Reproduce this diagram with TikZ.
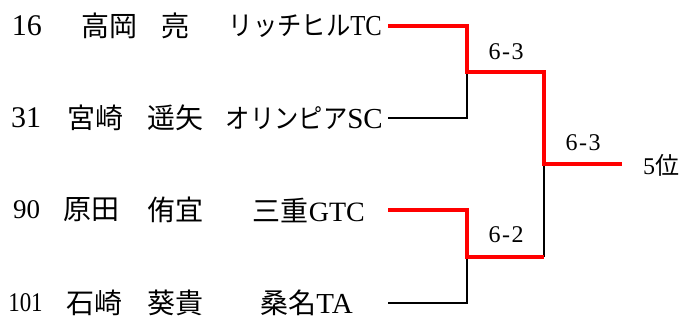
\documentclass[tikz,border=0pt]{standalone}
\usepackage{fontspec}
\setmainfont{Liberation Serif}
\newfontfamily\cjk{Noto Sans CJK JP}
\newfontfamily\cjkn[FakeStretch=0.9]{Noto Sans CJK JP}
\newfontfamily\latn[FakeStretch=0.85]{Liberation Serif}
\newcommand\fsz[1]{\fontsize{#1}{#1}\selectfont}
\begin{document}
\begin{tikzpicture}[x=1pt,y=1pt,
  nm/.style={inner sep=0pt,font=\fsz{28}},
  sc/.style={inner sep=0pt,font=\fsz{24}},
  win/.style={draw=red,line width=4pt},
  lose/.style={draw=black,line width=2.8pt}]
\useasboundingbox (0,0) rectangle (687,331);
% row 1
\node[nm,font=\fsz{30}] (n1) at (27,305) {16};
\node[nm] (s1) at (109.5,305) {\cjk 高岡};
\node[nm] (g1) at (175,305) {\cjk 亮};
\node[nm,anchor=east] (t1) at (382,305) {{\cjkn\fsz{27}リッチヒル}{\latn\fsz{29}TC}};
% row 2
\node[nm,font=\fsz{30}] (n2) at (26,213) {31};
\node[nm] (s2) at (95,213) {\cjk 宮崎};
\node[nm] (g2) at (175,213) {\cjk 遥矢};
\node[nm,anchor=east] (t2) at (383,213) {{\cjkn\fsz{27}オリンピア}{\fsz{29}SC}};
% row 3
\node[nm,font=\fsz{27}] (n3) at (26.5,121) {90};
\node[nm] (s3) at (91.5,121) {\cjk 原田};
\node[nm] (g3) at (175.5,121) {\cjk 侑宜};
\node[nm,anchor=east] (t3) at (365,121) {{\cjk 三重}{\fsz{28}GTC}};
% row 4
\node[nm,font=\fsz{27}] (n4) at (25.5,28) {{\latn 101}};
\node[nm] (s4) at (94,28) {\cjk 石崎};
\node[nm] (g4) at (175,28) {\cjk 葵貴};
\node[nm,anchor=east] (t4) at (353,28) {{\cjk 桑名}{\fsz{29}TA}};
% bracket coordinates
\coordinate (a1) at (388,305);
\coordinate (m1) at (467,305);
\coordinate (j1) at (467,259);
\coordinate (a2) at (388,213);
\coordinate (m2) at (467,213);
\coordinate (a3) at (388,121);
\coordinate (m3) at (467,121);
\coordinate (j2) at (467,74);
\coordinate (a4) at (388,28);
\coordinate (m4) at (467,28);
\coordinate (k1) at (544,259);
\coordinate (k2) at (544,74);
\coordinate (f) at (544,167);
\coordinate (e) at (622,167);
% losers
\draw[lose] (a2) -- (m2) -- (j1);
\draw[lose] (a4) -- (m4) -- (j2);
\draw[lose] (k2) -- (f);
% winners
\draw[win] (a1) -- (m1) -- (j1) -- (k1) -- (f) -- (e);
\draw[win] (a3) -- (m3) -- (j2) -- (k2);
% scores
\node[sc] (r1) at (506,279) {6\kern1.5pt-\kern1.5pt3};
\node[sc] (r2) at (506,96) {6\kern1.5pt-\kern1.5pt2};
\node[sc] (r3) at (583,188) {6\kern1.5pt-\kern1.5pt3};
\node[sc] (res) at (661,166) {5{\cjk 位}};
\end{tikzpicture}
\end{document}
